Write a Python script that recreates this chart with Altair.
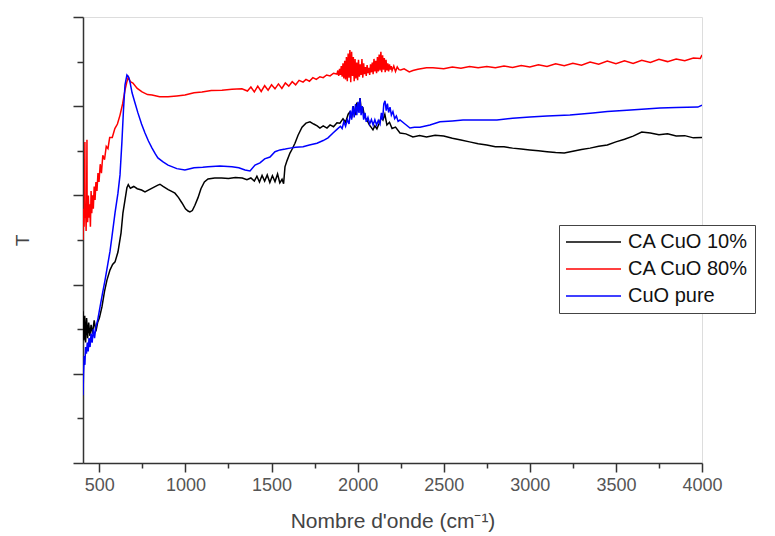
import altair as alt
import pandas as pd

# ---- data (wavenumber in cm-1, transmittance in arbitrary units 0-100) ----
wn_10 = [405, 410, 415, 420, 426, 432, 438, 445, 452, 460, 470, 480, 490, 500, 515, 530, 544, 562, 577, 591,
         608, 626, 637, 649, 660, 668, 680, 700, 720, 745, 765, 790, 815, 840, 852, 870, 900, 920, 939, 960,
         980, 1000, 1015, 1026, 1040, 1055, 1073, 1090, 1110, 1131, 1170, 1210, 1250, 1290, 1330, 1357, 1380,
         1400, 1415, 1430, 1445, 1460, 1475, 1490, 1505, 1520, 1535, 1548, 1561, 1570, 1578, 1590, 1607, 1620,
         1636, 1654, 1677, 1700, 1723, 1745, 1765, 1781, 1800, 1822, 1840, 1860, 1880, 1897, 1915, 1930, 1945,
         1955, 1965, 1975, 1985, 1995, 2005, 2014, 2022, 2030, 2040, 2054, 2068, 2080, 2089, 2100, 2112, 2125,
         2137, 2147, 2158, 2170, 2185, 2200, 2220, 2246, 2280, 2321, 2360, 2400, 2450, 2500, 2550, 2600, 2650,
         2700, 2750, 2800, 2850, 2900, 2950, 3000, 3050, 3100, 3150, 3200, 3250, 3300, 3350, 3400, 3450, 3500,
         3550, 3600, 3650, 3700, 3750, 3800, 3850, 3900, 3950, 4000]
t_10 = [34.0, 27.5, 33.0, 27.0, 32.5, 28.0, 31.5, 28.5, 31.0, 29.0, 32.0, 29.5, 31.5, 32.5, 35.0, 38.5, 41.0, 43.3, 44.5, 45.1,
        47.3, 51.6, 56.1, 59.0, 61.7, 62.4, 61.6, 62.0, 61.5, 61.2, 60.8, 61.3, 61.8, 62.3, 62.5, 62.0, 61.3, 60.9, 60.5, 59.5,
        58.3, 57.0, 56.5, 56.3, 56.6, 57.8, 59.5, 61.5, 63.0, 63.7, 63.9, 63.9, 63.8, 64.0, 63.9, 63.5, 63.9,
        63.2, 64.3, 63.0, 64.5, 63.2, 64.6, 62.9, 64.4, 63.1, 64.8, 62.8, 63.6, 62.6, 66.4, 67.8, 69.5, 70.4,
        71.7, 73.5, 75.3, 76.2, 76.5, 76.0, 75.6, 75.1, 75.6, 75.1, 75.8, 75.4, 76.3, 76.2, 77.2, 76.4, 78.2,
        78.7, 77.3, 80.0, 78.0, 80.8, 78.8, 81.8, 78.6, 79.8, 77.6, 76.9, 75.8, 75.2, 74.7, 75.6, 74.9, 76.2,
        77.5, 76.9, 78.2, 75.8, 76.4, 75.0, 75.3, 74.0, 73.8, 73.1, 73.4, 73.1, 73.5, 73.3, 72.8, 72.4, 72.0,
        71.6, 71.3, 70.9, 70.9, 70.6, 70.4, 70.2, 70.0, 69.8, 69.6, 69.5, 69.9, 70.3, 70.6, 71.0, 71.3, 72.0,
        72.6, 73.3, 74.2, 74.0, 73.6, 73.8, 73.3, 73.4, 72.9, 73.0]

wn_80 = [405, 408, 411, 414, 416, 417, 420, 423, 426, 428, 429, 432, 436, 440, 444, 448, 452, 456, 460, 465,
         470, 475, 480, 486, 492, 498, 505, 512, 520, 530, 540, 550, 560, 575, 590, 605, 620, 635, 649, 660,
         668, 680, 695, 720, 748, 780, 806, 850, 899, 950, 997, 1050, 1096, 1150, 1212, 1270, 1328, 1360, 1380,
         1400, 1420, 1440, 1460, 1480, 1500, 1520, 1540, 1560, 1580, 1600, 1620, 1640, 1660, 1683, 1700, 1720,
         1740, 1760, 1781, 1800, 1820, 1840, 1860,
         1880, 1885, 1890, 1895, 1900, 1905, 1910, 1915, 1920, 1925, 1930, 1935, 1940, 1945, 1950, 1955, 1960,
         1965, 1970, 1975, 1980, 1985, 1990, 1995, 2000, 2005, 2010, 2015, 2020, 2025, 2030, 2035, 2040, 2045,
         2050, 2055, 2060, 2065, 2070, 2075, 2080, 2085, 2090, 2095, 2100, 2105, 2110, 2115, 2120, 2125, 2130,
         2135, 2140, 2145, 2150, 2155, 2160, 2165, 2170, 2175, 2180, 2185, 2190, 2195, 2200, 2210, 2220, 2230,
         2240, 2250, 2270, 2300, 2321, 2350, 2400, 2437, 2500,
         2550, 2600, 2650, 2700, 2750, 2800, 2850, 2900, 2950, 3000, 3050, 3100, 3150, 3200, 3250, 3300, 3350,
         3400, 3450, 3500, 3550, 3600, 3650, 3700, 3750, 3800, 3850, 3900, 3950, 3990, 4000]
t_80 = [50.0, 57.0, 53.0, 60.0, 72.0, 55.0, 58.0, 52.0, 59.0, 72.5, 56.0, 54.0, 60.0, 55.0, 58.0, 53.0, 61.0, 56.0, 60.0, 57.0,
        62.0, 59.0, 63.0, 61.0, 65.0, 63.0, 67.0, 65.0, 69.0, 68.0, 71.0, 70.5, 73.0, 73.0, 75.0, 76.0, 78.0, 80.5, 83.6, 85.5,
        86.5, 85.5, 85.2, 84.0, 83.2, 82.6, 82.5, 82.1, 82.1, 82.3, 82.5, 83.0, 83.2, 83.5, 83.6, 83.8, 83.9, 83.4, 84.3,
        83.2, 84.5, 83.3, 84.6, 83.6, 84.8, 83.9, 85.0, 84.0, 85.2, 84.5, 85.5, 84.8, 85.8, 85.4, 86.0, 85.6,
        86.4, 86.0, 86.6, 86.4, 87.0, 86.8, 87.4,
        87.2, 88.0, 86.8, 88.4, 87.0, 89.0, 86.6, 89.6, 86.2, 90.2, 86.0, 91.0, 85.6, 91.8, 86.4, 92.6, 85.4,
        92.2, 86.8, 91.0, 85.6, 90.6, 86.2, 89.8, 85.8, 90.4, 86.6, 89.4, 87.0, 90.6, 86.4, 89.6, 87.2, 88.8,
        86.8, 89.2, 87.4, 88.6, 87.0, 89.4, 87.6, 89.8, 87.2, 90.6, 87.8, 90.2, 87.4, 91.0, 87.8, 91.6, 88.0,
        92.2, 87.6, 91.4, 88.2, 90.8, 87.6, 90.4, 88.0, 89.6, 87.8, 89.4, 88.2, 89.0, 88.0, 89.0, 87.8, 88.8,
        88.2, 88.1, 88.4, 87.7, 88.0, 88.3, 88.6, 88.6, 88.4,
        88.8, 88.5, 88.9, 88.6, 88.9, 88.6, 89.0, 88.7, 89.1, 88.8, 89.3, 88.9, 89.5, 89.1, 89.6, 89.2, 89.9,
        89.4, 90.1, 89.5, 90.2, 89.6, 90.3, 89.8, 90.5, 90.0, 90.6, 90.2, 90.8, 90.7, 91.5]

wn_pure = [405, 408, 412, 416, 420, 425, 430, 435, 440, 446, 452, 458, 465, 472, 480, 490, 504, 518, 533, 550,
           562, 573, 591, 608, 620, 631, 640, 649, 660, 670, 678, 690, 705, 724, 745, 765, 785, 806, 825, 840,
           870, 899, 950, 997, 1050, 1100, 1131, 1200, 1270, 1310, 1346, 1375, 1404, 1433, 1460, 1491, 1520,
           1549, 1580, 1607, 1640, 1683, 1720, 1764, 1800, 1828, 1857, 1880,
           1900, 1910, 1920, 1930, 1940, 1950, 1958, 1965, 1972, 1980, 1988, 1995, 2002, 2008, 2014, 2020, 2027,
           2035, 2043, 2050, 2060, 2070, 2080, 2090, 2100, 2110, 2120, 2130, 2138, 2145, 2152, 2159, 2166, 2173,
           2180, 2188, 2196, 2205, 2215, 2225, 2235, 2246,
           2275, 2304, 2330, 2362, 2420, 2478, 2550, 2612, 2700, 2809, 2900, 3001, 3100, 3233, 3366,
           3450, 3564, 3650, 3756, 3850, 3976, 4000]
t_pure = [15.2, 20.0, 24.0, 22.0, 26.0, 24.5, 27.0, 25.0, 28.0, 26.0, 29.0, 27.0, 30.0, 28.0, 30.5, 32.0, 35.0, 38.0, 41.0, 44.8,
          47.5, 50.7, 56.1, 60.5, 64.6, 72.0, 79.1, 84.8, 87.0, 86.5, 85.4, 83.0, 81.0, 78.5, 76.0, 74.0, 72.2, 70.6, 69.3, 68.4,
          67.5, 66.8, 66.0, 65.7, 66.2, 66.3, 66.4, 66.6, 66.4, 66.2, 65.7, 65.5, 66.8, 67.3, 68.2, 68.6, 69.8,
          70.2, 70.4, 70.6, 70.8, 70.9, 71.3, 71.7, 72.3, 72.9, 74.0, 74.8,
          75.5, 75.0, 76.5, 75.5, 77.0, 76.0, 79.0, 77.0, 80.0, 77.5, 80.5, 78.0, 81.0, 78.5, 81.8, 78.0, 80.0,
          77.0, 78.5, 76.5, 77.5, 76.0, 77.0, 75.8, 77.0, 75.8, 76.8, 76.0, 78.5, 77.0, 80.5, 81.2, 79.0, 80.6,
          78.6, 79.8, 78.0, 78.8, 77.2, 77.8, 76.6, 76.9,
          76.0, 75.1, 75.3, 75.3, 75.8, 76.5, 76.7, 76.9, 76.9, 76.9, 77.3, 77.6, 77.8, 78.0, 78.5,
          78.8, 79.1, 79.3, 79.6, 79.7, 79.8, 80.2]

series_names = ["CA CuO 10%", "CA CuO 80%", "CuO pure"]
series_colors = ["#000000", "#ff0000", "#0000ff"]

frames = []
for name, xs, ys in [(series_names[0], wn_10, t_10),
                     (series_names[1], wn_80, t_80),
                     (series_names[2], wn_pure, t_pure)]:
    frames.append(pd.DataFrame({"wn": xs, "T": ys, "serie": name}))
df = pd.concat(frames, ignore_index=True)

x_values = list(range(500, 4001, 250))
y_values = list(range(0, 101, 10))

FONT = "Liberation Sans"

chart = alt.Chart(df).mark_line(strokeWidth=1.5, clip=True).encode(
    x=alt.X("wn:Q",
            scale=alt.Scale(domain=[405, 4000], nice=False, zero=False),
            axis=alt.Axis(title="Nombre d'onde (cm⁻¹)", values=x_values, grid=False, format="d",
                          labelExpr="datum.value % 500 === 0 ? datum.label : ''",
                          tickSize={"condition": {"test": "datum.value % 500 === 0", "value": 9}, "value": 5},
                          labelOverlap=False, labelFlush=False, labelPadding=4,
                          labelFont=FONT, labelFontSize=18, labelColor="#555555",
                          titleFont=FONT, titleFontSize=21, titleFontWeight="normal",
                          titleColor="#444444", titlePadding=16,
                          domainColor="#333333", domainWidth=1.5, tickColor="#333333", tickWidth=1.5)),
    y=alt.Y("T:Q",
            scale=alt.Scale(domain=[0, 100], nice=False, zero=False),
            axis=alt.Axis(title="T", values=y_values, grid=False, labels=False,
                          tickSize={"condition": {"test": "datum.value % 20 === 0", "value": 10}, "value": 6},
                          titleFont=FONT, titleFontSize=19, titleFontWeight="normal",
                          titleColor="#444444", titlePadding=40,
                          domainColor="#333333", domainWidth=1.5, tickColor="#333333", tickWidth=1.5)),
    color=alt.Color("serie:N",
                    scale=alt.Scale(domain=series_names, range=series_colors),
                    legend=alt.Legend(title=None, orient="none", legendX=476, legendY=208,
                                      symbolType="stroke", symbolSize=3025, symbolStrokeWidth=1.5,
                                      clipHeight=22, rowPadding=5, labelOffset=6,
                                      labelFont=FONT, labelFontSize=20, labelColor="#111111",
                                      strokeColor="#444444", fillColor="white", padding=6)),
).properties(
    width=619, height=446,
    autosize=alt.AutoSizeParams(type="none"),
    padding={"left": 83, "top": 17, "right": 73, "bottom": 73},
).configure_view(stroke=None).configure(background="white")

chart.save("out.html", embed_options={"renderer": "svg", "actions": False})
